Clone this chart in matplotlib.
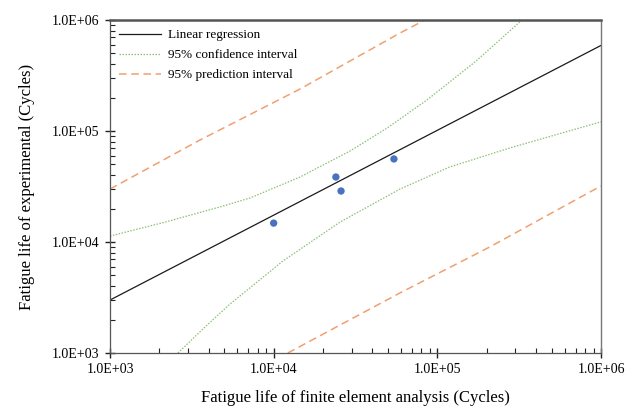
import matplotlib
matplotlib.use("Agg")
import matplotlib.pyplot as plt
from matplotlib.ticker import LogLocator, FixedLocator, NullFormatter

plt.rcParams['font.family'] = ['Liberation Serif', 'DejaVu Serif']

# Experimental vs FEA fatigue life points
fea_life = [1.0e4, 2.40e4, 2.58e4, 5.43e4]
exp_life = [1.48e4, 3.85e4, 2.88e4, 5.6e4]

# Linear regression line
reg_x = [1.0e3, 1.0e6]
reg_y = [3.0e3, 5.9e5]

# 95% confidence interval (upper / lower)
ci_up_x = [1.0e3, 2.17e3, 4.70e3, 7.16e3, 1.45e4, 2.93e4, 4.92e4, 8.63e4, 1.70e5, 3.29e5]
ci_up_y = [1.13e4, 1.51e4, 2.07e4, 2.49e4, 3.85e4, 6.61e4, 1.06e5, 1.90e5, 4.19e5, 1.0e6]
ci_lo_x = [2.60e3, 3.80e3, 5.41e3, 1.14e4, 2.54e4, 5.92e4, 1.19e5, 2.77e5, 1.0e6]
ci_lo_y = [1.0e3, 1.71e3, 2.76e3, 6.75e3, 1.51e4, 3.0e4, 4.74e4, 7.03e4, 1.21e5]

# 95% prediction interval (upper / lower)
pi_up_x = [1.0e3, 3.55e3, 1.45e4, 5.92e4, 8.4e4]
pi_up_y = [3.0e4, 8.3e4, 2.39e5, 7.64e5, 1.0e6]
pi_lo_x = [1.22e4, 5.92e4, 2.09e5, 1.0e6]
pi_lo_y = [1.0e3, 3.48e3, 9.02e3, 3.2e4]

tick_vals = [1e3, 1e4, 1e5, 1e6]
tick_labels = ['1.0E+03', '1.0E+04', '1.0E+05', '1.0E+06']

fig = plt.figure(figsize=(6.43, 4.15), dpi=100)
ax = fig.add_axes([110/643, 1-353/415, (601-110)/643, (353-20)/415])

ax.plot(reg_x, reg_y, color='#1a1a1a', lw=0.9, label='Linear regression')
ax.plot(ci_up_x, ci_up_y, color='#8cbf7a', lw=0.9, ls=(0, (1.2, 1.2)), label='95% confidence interval')
ax.plot(ci_lo_x, ci_lo_y, color='#8cbf7a', lw=0.9, ls=(0, (1.2, 1.2)))
ax.plot(pi_up_x, pi_up_y, color='#f0a070', lw=1.1, ls=(0, (5, 3)), label='95% prediction interval')
ax.plot(pi_lo_x, pi_lo_y, color='#f0a070', lw=1.1, ls=(0, (5, 3)))
ax.scatter(fea_life, exp_life, s=28, color='#4a72c0', zorder=5, edgecolors='none')

ax.set_xscale('log')
ax.set_yscale('log')
ax.set_xlim(1e3, 1e6)
ax.set_ylim(1e3, 1e6)

ax.xaxis.set_major_locator(FixedLocator(tick_vals))
ax.yaxis.set_major_locator(FixedLocator(tick_vals))
ax.set_xticklabels(tick_labels)
ax.set_yticklabels(tick_labels)
ax.xaxis.set_minor_locator(LogLocator(base=10, subs=range(2, 10)))
ax.yaxis.set_minor_locator(LogLocator(base=10, subs=range(2, 10)))
ax.xaxis.set_minor_formatter(NullFormatter())
ax.yaxis.set_minor_formatter(NullFormatter())

ax.tick_params(which='major', direction='inout', length=7, width=1.0, labelsize=10, color='#222222', pad=4)
ax.tick_params(which='minor', direction='in', length=3.5, width=0.8, color='#222222')
ax.tick_params(top=False, right=False, which='both')

for s in ['left', 'bottom']:
    ax.spines[s].set_color('#555555')
    ax.spines[s].set_linewidth(0.9)
ax.spines['top'].set_color('#555555')
ax.spines['top'].set_linewidth(1.8)
ax.spines['right'].set_color('#777777')
ax.spines['right'].set_linewidth(1.0)

ax.set_xlabel('Fatigue life of finite element analysis (Cycles)', fontsize=12, labelpad=10)
ax.set_ylabel('Fatigue life of experimental (Cycles)', fontsize=12, labelpad=12)

leg = ax.legend(loc='upper left', frameon=False, fontsize=9.5, handlelength=3.2,
                borderaxespad=0.3, labelspacing=0.58, handletextpad=0.5,
                bbox_to_anchor=(0.0, 1.0))

fig.savefig('out.png', dpi=100)
